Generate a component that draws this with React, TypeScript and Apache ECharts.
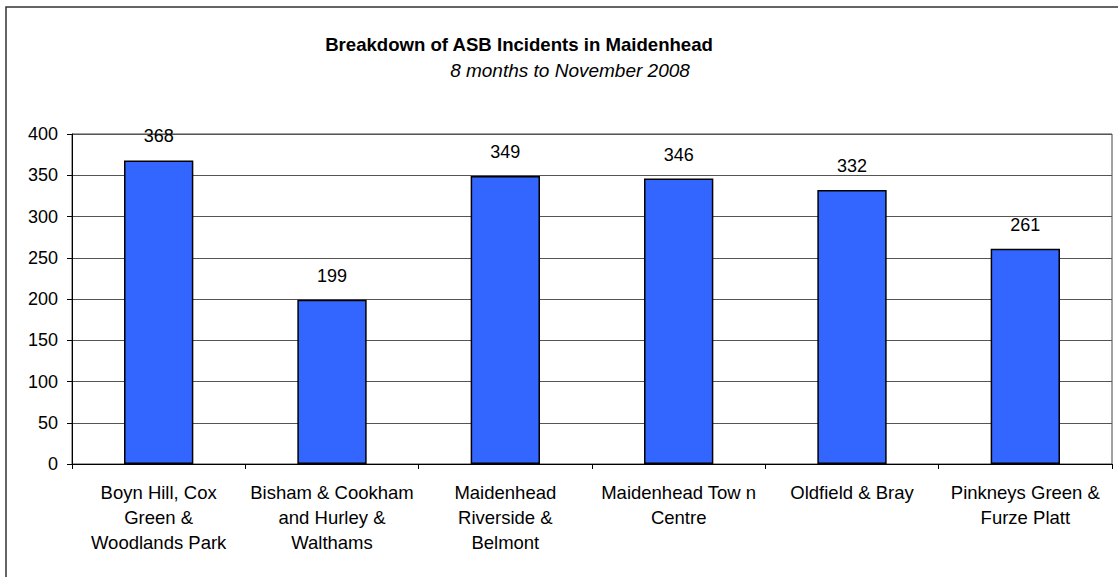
import React, { useEffect, useRef } from "react";
import * as echarts from "echarts";

const categories = [
  "Boyn Hill, Cox\nGreen &\nWoodlands Park",
  "Bisham & Cookham\nand Hurley &\nWalthams",
  "Maidenhead\nRiverside &\nBelmont",
  "Maidenhead Tow n\nCentre",
  "Oldfield & Bray",
  "Pinkneys Green &\nFurze Platt",
];
const incidents = [368, 199, 349, 346, 332, 261];
const yTicks = { min: 0, max: 400, interval: 50 };
const titleText = "Breakdown of ASB Incidents in Maidenhead";
const subtitleText = "8 months to November 2008";

const FONT = "Arial, 'Liberation Sans', sans-serif";

export default function App() {
  const ref = useRef<HTMLDivElement>(null);
  useEffect(() => {
    if (!ref.current) return;
    const chart = echarts.init(ref.current, null, { renderer: "svg" });
    chart.setOption({
      animation: false,
      backgroundColor: "#ffffff",
      textStyle: { fontFamily: FONT },
      graphic: [
        {
          type: "rect",
          shape: { x: 6, y: 7, width: 1300, height: 700 },
          style: { fill: "none", stroke: "#333333", lineWidth: 1.5 },
          silent: true,
        },
        {
          type: "text",
          x: 519,
          y: 44,
          style: {
            text: titleText,
            fontFamily: FONT,
            fontSize: 18.6,
            fontWeight: "bold",
            fill: "#000",
            align: "center",
            verticalAlign: "middle",
          },
        },
        {
          type: "text",
          x: 570,
          y: 70,
          style: {
            text: subtitleText,
            fontFamily: FONT,
            fontSize: 19,
            fontStyle: "italic",
            fill: "#000",
            align: "center",
            verticalAlign: "middle",
          },
        },
      ],
      grid: {
        left: 72,
        top: 134,
        width: 1040,
        height: 330,
        show: true,
        borderColor: "#444",
        borderWidth: 1,
        containLabel: false,
      },
      xAxis: {
        type: "category",
        data: categories,
        axisLine: { lineStyle: { color: "#000", width: 1 } },
        axisTick: { show: true, length: 5, lineStyle: { color: "#000" }, alignWithLabel: false },
        axisLabel: {
          interval: 0,
          margin: 16,
          fontSize: 18.5,
          lineHeight: 25,
          color: "#000",
          fontFamily: FONT,
        },
      },
      yAxis: {
        type: "value",
        min: yTicks.min,
        max: yTicks.max,
        interval: yTicks.interval,
        axisLine: { show: true, lineStyle: { color: "#000", width: 1 } },
        axisTick: { show: true, length: 5, lineStyle: { color: "#000" } },
        axisLabel: { margin: 14, fontSize: 18, color: "#000", fontFamily: FONT },
        splitLine: { show: true, lineStyle: { color: "#555", width: 1 } },
      },
      series: [
        {
          type: "bar",
          data: incidents,
          barWidth: "40%",
          itemStyle: { color: "#3366FF", borderColor: "#000", borderWidth: 1.5 },
          label: {
            show: true,
            position: "top",
            distance: 15,
            fontSize: 18,
            color: "#000",
            fontFamily: FONT,
          },
        },
      ],
    });
    return () => chart.dispose();
  }, []);
  return (
    <div
      ref={ref}
      style={{ position: "absolute", left: 0, top: 0, width: 1118, height: 577 }}
    />
  );
}
